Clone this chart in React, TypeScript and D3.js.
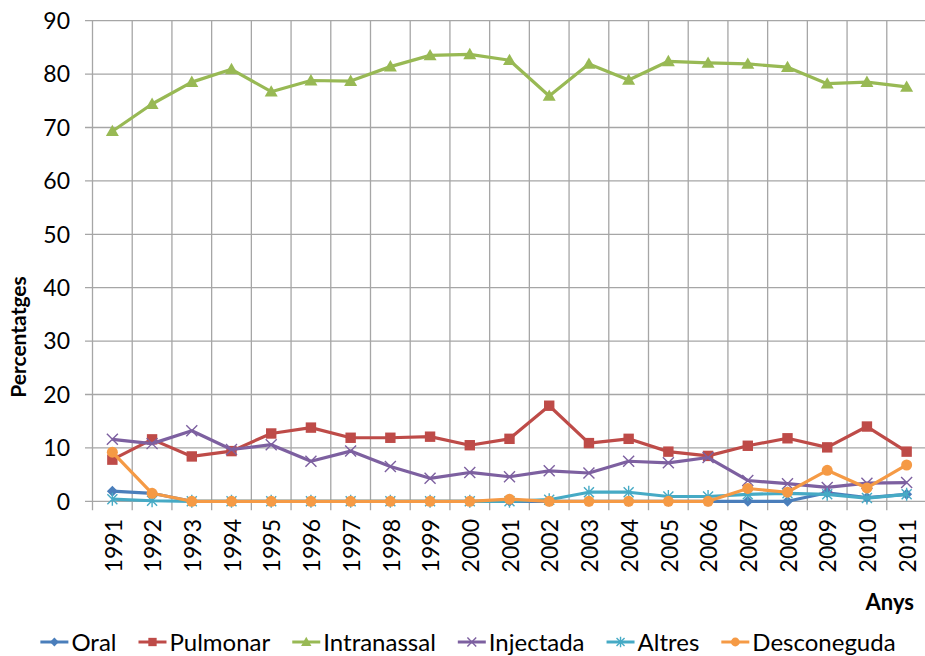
import React, { useEffect, useRef } from "react";
import * as d3 from "d3";

const years = ["1991","1992","1993","1994","1995","1996","1997","1998","1999","2000","2001","2002","2003","2004","2005","2006","2007","2008","2009","2010","2011"];
const oral = [1.9,1.5,0,0,0,0,0,0,0,0,0,0,0,0,0,0,0,0,1.6,0.7,1.3];
const pulmonar = [7.8,11.6,8.4,9.4,12.7,13.8,11.9,11.9,12.1,10.5,11.7,17.9,10.9,11.7,9.3,8.5,10.4,11.8,10.1,14.0,9.3];
const intranassal = [69.3,74.4,78.5,80.9,76.7,78.8,78.7,81.4,83.5,83.7,82.6,75.9,81.9,78.9,82.4,82.1,81.9,81.3,78.2,78.5,77.6];
const injectada = [11.6,10.8,13.2,9.7,10.6,7.5,9.4,6.5,4.3,5.4,4.6,5.7,5.3,7.5,7.2,8.2,3.9,3.3,2.6,3.4,3.5];
const altres = [0.4,0.1,0,0,0,0,0,0,0,0,0,0.3,1.7,1.7,0.9,0.9,1.3,1.5,1.3,0.6,1.3];
const desconeguda = [9.2,1.5,0,0,0,0,0,0,0,0,0.4,0,0,0,0,0,2.4,1.7,5.8,2.5,6.8];
const seriesNames = ["Oral","Pulmonar","Intranassal","Injectada","Altres","Desconeguda"];
const seriesColors = ["#4A7EBB","#BE4B48","#98B954","#7D60A0","#46AAC5","#F59A45"];
const seriesMarkers = ["diamond","square","triangle","x","star","circle"];
const yTicks = [0,10,20,30,40,50,60,70,80,90];

const W = 925, H = 656;
const FONT = "Lato, 'Open Sans', sans-serif";

function drawMarker(g: any, type: string, cx: number, cy: number, color: string, s = 1) {
  if (type === "diamond") {
    const r = 5.5 * s;
    g.append("path").attr("d", `M${cx},${cy - r}L${cx + r},${cy}L${cx},${cy + r}L${cx - r},${cy}Z`).attr("fill", color);
  } else if (type === "square") {
    const r = 5.2 * s;
    g.append("rect").attr("x", cx - r).attr("y", cy - r).attr("width", 2 * r).attr("height", 2 * r).attr("fill", color);
  } else if (type === "triangle") {
    const r = 6.5 * s;
    g.append("path").attr("d", `M${cx},${cy - r}L${cx + r},${cy + r * 0.75}L${cx - r},${cy + r * 0.75}Z`).attr("fill", color);
  } else if (type === "circle") {
    g.append("circle").attr("cx", cx).attr("cy", cy).attr("r", 5.5 * s).attr("fill", color);
  } else if (type === "x") {
    const r = 5.5 * s;
    g.append("path").attr("d", `M${cx - r},${cy - r}L${cx + r},${cy + r}M${cx - r},${cy + r}L${cx + r},${cy - r}`)
      .attr("stroke", color).attr("stroke-width", 1.4).attr("fill", "none");
  } else if (type === "star") {
    const r = 5 * s;
    g.append("path").attr("d", `M${cx - r},${cy - r}L${cx + r},${cy + r}M${cx - r},${cy + r}L${cx + r},${cy - r}M${cx},${cy - r * 1.3}L${cx},${cy + r * 1.3}`)
      .attr("stroke", color).attr("stroke-width", 1.4).attr("fill", "none");
  }
}

export default function App() {
  const ref = useRef<SVGSVGElement>(null);
  useEffect(() => {
    const svg = d3.select(ref.current);
    svg.selectAll("*").remove();
    const data = [oral, pulmonar, intranassal, injectada, altres, desconeguda];

    const x = d3.scaleBand<string>().domain(years).range([92.5, 926.5]).padding(0);
    const bw = x.bandwidth();
    const cx = (d: string) => (x(d) as number) + bw / 2;
    const y = d3.scaleLinear().domain([0, 90]).range([501.3, 20.7]);
    const gridColor = "#A6A6A6";

    const grid = svg.append("g");
    yTicks.forEach((t) => {
      grid.append("line").attr("x1", 85).attr("x2", 926.5).attr("y1", y(t)).attr("y2", y(t))
        .attr("stroke", gridColor).attr("stroke-width", 1.3);
    });
    const bounds = years.map((d) => x(d) as number).concat([926.5]);
    bounds.forEach((b) => {
      grid.append("line").attr("x1", b).attr("x2", b).attr("y1", y(90)).attr("y2", y(0) + 9)
        .attr("stroke", gridColor).attr("stroke-width", 1.3);
    });

    svg.append("g").selectAll("text").data(yTicks).join("text")
      .attr("x", 70).attr("y", (d) => y(d)).attr("dy", "0.36em")
      .attr("text-anchor", "end").attr("font-family", FONT).attr("font-size", 23).attr("fill", "#000")
      .text((d) => String(d));

    svg.append("g").selectAll("text").data(years).join("text")
      .attr("transform", (d) => `translate(${cx(d) + 1},519) rotate(-90)`)
      .attr("dy", "0.36em").attr("text-anchor", "end")
      .attr("font-family", FONT).attr("font-size", 23).attr("fill", "#000")
      .text((d) => d);

    svg.append("text").attr("transform", `translate(26,337) rotate(-90)`)
      .attr("text-anchor", "middle").attr("font-family", FONT).attr("font-weight", "bold")
      .attr("font-size", 21).text("Percentatges");
    svg.append("text").attr("x", 914).attr("y", 610)
      .attr("text-anchor", "end").attr("font-family", FONT).attr("font-weight", "bold")
      .attr("font-size", 22).text("Anys");

    const line = d3.line<number>().x((_, i) => cx(years[i])).y((v) => y(v));
    data.forEach((vals, si) => {
      const g = svg.append("g");
      g.append("path").attr("d", line(vals) as string).attr("fill", "none")
        .attr("stroke", seriesColors[si]).attr("stroke-width", 3.2).attr("stroke-linejoin", "round");
      vals.forEach((v, i) => drawMarker(g, seriesMarkers[si], cx(years[i]), y(v), seriesColors[si]));
    });

    const leg = svg.append("g");
    const ly = 642;
    const items: { g: any; w: number }[] = [];
    seriesNames.forEach((name, si) => {
      const g = leg.append("g");
      g.append("line").attr("x1", 0).attr("x2", 28).attr("y1", ly).attr("y2", ly)
        .attr("stroke", seriesColors[si]).attr("stroke-width", 3);
      drawMarker(g, seriesMarkers[si], 14, ly, seriesColors[si], 0.8);
      const t = g.append("text").attr("x", 31).attr("y", ly).attr("dy", "0.36em")
        .attr("font-family", FONT).attr("font-size", 24).attr("fill", "#000").text(name);
      const tw = (t.node() as SVGTextElement).getComputedTextLength();
      items.push({ g, w: 31 + tw });
    });
    const gap = 22;
    const total = items.reduce((a, b) => a + b.w, 0) + gap * (items.length - 1);
    let xpos = 468 - total / 2;
    items.forEach((it) => {
      it.g.attr("transform", `translate(${xpos},0)`);
      xpos += it.w + gap;
    });
  }, []);

  return (
    <svg ref={ref} width={W} height={H} style={{ position: "absolute", left: 0, top: 0, background: "#fff" }} />
  );
}
